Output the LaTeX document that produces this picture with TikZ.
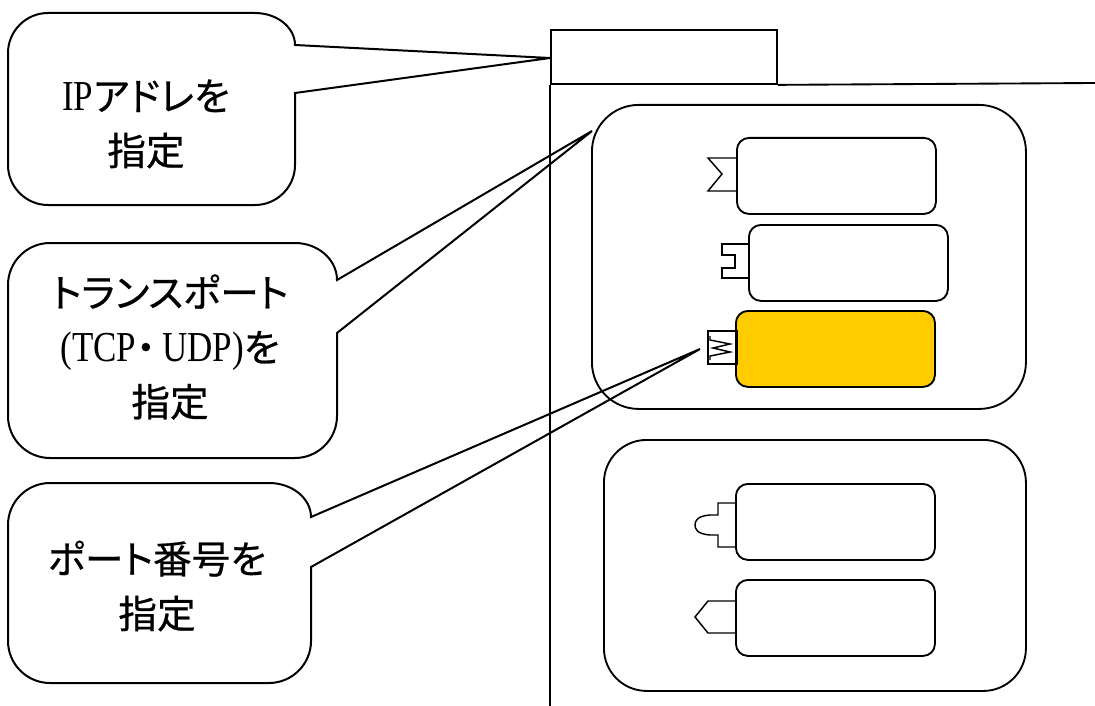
\documentclass[tikz,border=0pt]{standalone}
\usepackage{fontspec}
\setmainfont{Liberation Serif}
\newfontfamily\jp[RawFeature=+palt, FakeBold=0.6]{Noto Sans CJK JP}
\newfontfamily\jpfull[FakeBold=0.6]{Noto Sans CJK JP}
\newfontfamily\lat[FakeStretch=0.82]{Liberation Serif}
\newcommand\latn[1]{{\lat\fontsize{32pt}{41pt}\selectfont #1}}
\definecolor{gold}{HTML}{FFCC00}
\tikzset{
  big/.style={draw, line width=1.4pt, rounded corners=35pt, inner sep=0pt, anchor=north west},
  proto/.style={draw, line width=1.4pt, rounded corners=9pt, inner sep=0pt, anchor=north west,
                minimum width=149.25pt, minimum height=57pt},
  plug/.style={draw, line width=1.1pt, line join=miter},
  bubble/.style={draw, line width=1.5pt, line join=miter},
  frame/.style={draw, line width=1.4pt},
  label/.style={align=center, font=\jp\fontsize{29pt}{41pt}\selectfont, inner sep=0pt}
}
% #1 L, #2 T, #3 R, #4 B, #5 r, #6 y1, #7 y2, #8 tip
\newcommand\bubblepath[8]{%
\draw[bubble] (#3,#6) -- (#8) -- (#3,#7) -- ({#3},{#4-#5})
 .. controls ({#3},{#4-0.45*#5}) and ({#3-0.45*#5},{#4}) .. ({#3-#5},{#4})
 -- ({#1+#5},{#4})
 .. controls ({#1+0.45*#5},{#4}) and ({#1},{#4-0.45*#5}) .. ({#1},{#4-#5})
 -- ({#1},{#2+#5})
 .. controls ({#1},{#2+0.45*#5}) and ({#1+0.45*#5},{#2}) .. ({#1+#5},{#2})
 -- ({#3-#5},{#2})
 .. controls ({#3-0.45*#5},{#2}) and ({#3},{#2+0.45*(#6-#2)}) .. (#3,#6) -- cycle;}
\begin{document}
\begin{tikzpicture}[x=0.75pt,y=-0.75pt]
\useasboundingbox (0,0) rectangle (1095,706);
% host frame
\node[draw, line width=1.4pt, inner sep=0pt, minimum width=169.5pt, minimum height=40.5pt, anchor=north west] (tab) at (550,29) {};
\coordinate (tabend) at (1095,83);
\coordinate (hostbottom) at (550,706);
\draw[frame] (tab.south east) -- (tabend);
\draw[frame] (tab.south west) -- (hostbottom);
% groups
\node[big, minimum width=325.5pt, minimum height=228pt] (upper) at (591,104) {};
\node[big, minimum width=316.5pt, minimum height=188.25pt, rounded corners=32pt] (lower) at (603,439) {};
% protocol boxes
\node[proto] (pa) at (736,137) {};
\node[proto] (pb) at (748,224) {};
\node[proto, fill=gold] (pc) at (735,310) {};
\node[proto] (pd) at (735,483) {};
\node[proto] (pe) at (735,579) {};
% plugs
\draw[plug] (736,158) -- (708,158) -- (722,174) -- (708,191) -- (736,191);
\draw[plug] (748,244) -- (722,244) -- (722,255) -- (735,255) -- (735,268) -- (722,268) -- (722,278) -- (748,278);
\draw[plug] (708,331) rectangle (737,364);
\draw[plug] (710,336) -- (710,340) -- (730,344) -- (713,348) -- (730,352) -- (710,356) -- (710,360);
\draw[plug] (735,503) -- (718,503) -- (718,515) -- (710,515) .. controls (697,516) and (695,521) .. (695,525)
  .. controls (695,529) and (697,534) .. (710,535) -- (718,535) -- (718,547) -- (735,547);
\draw[plug] (735,601) -- (708,601) -- (695,617) -- (708,633) -- (735,633);
% callout tips
\coordinate (iptip) at (550,58);
\coordinate (tptip) at (592,131);
\coordinate (pttip) at (700,349);
\bubblepath{8}{13}{295}{205}{40}{45}{93}{iptip}
\bubblepath{8}{243}{337}{458}{42}{280}{333}{tptip}
\bubblepath{8}{483}{311}{683}{42}{517}{567}{pttip}
\node[label] (iptxt) at (146,124) {\latn{IP}アドレを\\指定};
\node[label] (tptxt) at (170,347) {トランスポート\\\latn{(TCP}{\jp ・}\hspace{5pt}\latn{UDP)}を\\指定};
\node[label] (pttxt) at (157,586) {ポート番号を\\指定};
\end{tikzpicture}
\end{document}
